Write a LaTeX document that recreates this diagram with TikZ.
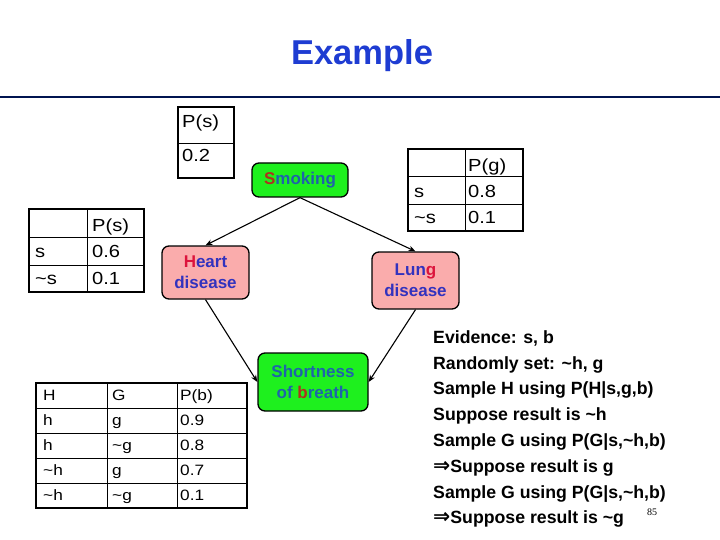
\documentclass[tikz,border=0pt]{standalone}
\usepackage{fontspec}
\setmainfont{Liberation Sans}
\newfontfamily\seriffont{Liberation Serif}
\newfontfamily\symfont{DejaVu Sans}
\newfontfamily\tabfont[FakeStretch=1.15]{Liberation Sans}
\usetikzlibrary{arrows.meta}
\definecolor{titleblue}{RGB}{30,60,210}
\definecolor{navyline}{RGB}{0,20,80}
\definecolor{nodegreen}{RGB}{30,240,30}
\definecolor{nodepink}{RGB}{250,172,172}
\definecolor{nodeblue}{RGB}{50,50,190}
\definecolor{nodered}{RGB}{220,20,60}
\definecolor{greenred}{RGB}{175,50,30}
\definecolor{greenteal}{RGB}{30,100,170}
\newcommand{\implarrow}{{\symfont\bfseries\fontsize{20.5}{20}\selectfont ⇒}}
\begin{document}
\begin{tikzpicture}[x=1pt,y=-1pt]
\tikzset{
 bn/.style={draw=black, line width=1.3pt, rounded corners=7pt, font=\fontsize{17}{21}\selectfont\bfseries, align=center, inner sep=0pt},
 gbn/.style={bn, fill=nodegreen, text=greenteal},
 pbn/.style={bn, fill=nodepink, text=nodeblue},
 edge/.style={-{Stealth[length=7pt,width=5.5pt]}, line width=1.1pt},
 cell/.style={anchor=base west, inner sep=0pt, font=\tabfont\fontsize{17.5}{20}\selectfont},
 scell/.style={anchor=base west, inner sep=0pt, font=\tabfont\fontsize{15}{18}\selectfont},
 tab/.style={line width=1.3pt},
 tabin/.style={line width=0.8pt},
 ev/.style={anchor=base west, inner sep=0pt, font=\fontsize{17.7}{20}\selectfont\bfseries},
}
\useasboundingbox (0,0) rectangle (720,540);

% title and rule
\node[font=\fontsize{34.5}{38}\selectfont\bfseries, text=titleblue, anchor=base, inner sep=0pt] (title) at (362,65) {Example};
\coordinate (rl) at (0,97);
\coordinate (rr) at (720,97);
\draw[navyline, line width=2.3pt] (rl) -- (rr);

% network nodes
\node[gbn, minimum width=96pt, minimum height=34pt] (smk) at (300,180) {\textcolor{greenred}{S}moking};
\node[pbn, minimum width=87pt, minimum height=53pt] (hrt) at (205.5,272.5) {\textcolor{nodered}{H}eart\\disease};
\node[pbn, minimum width=87pt, minimum height=57pt] (lng) at (415.5,280.5) {Lun\textcolor{nodered}{g}\\disease};
\node[gbn, minimum width=110pt, minimum height=58pt] (sob) at (313,382) {Shortness\\of \textcolor{greenred}{b}reath};

\draw[edge] (smk.south) -- (hrt.north);
\draw[edge] (smk.south) -- (lng.north);
\draw[edge] (hrt.south) -- (sob.west);
\draw[edge] (lng.south) -- (sob.east);

% table P(s) top
\draw[tab] (178,107) rectangle (234,178);
\draw[tabin] (178,143) -- (234,143);
\node[cell] (a1) at (182,128) {P(s)};
\node[cell] (a2) at (182,161.5) {0.2};

% table P(h|s) left
\draw[tab] (29,209) rectangle (144,292);
\draw[tabin] (87,209) -- (87,292);
\draw[tabin] (29,237) -- (144,237);
\draw[tabin] (29,265) -- (144,265);
\node[cell] (b1) at (92,231) {P(s)};
\node[cell] (b2) at (35,257) {s};
\node[cell] (b3) at (92,257) {0.6};
\node[cell] (b4) at (35,284) {\textasciitilde s};
\node[cell] (b5) at (92,284) {0.1};

% table P(g|s)
\draw[tab] (408,149) rectangle (523,231);
\draw[tabin] (465,149) -- (465,231);
\draw[tabin] (408,176) -- (523,176);
\draw[tabin] (408,204) -- (523,204);
\node[cell] (c1) at (468,172) {P(g)};
\node[cell] (c2) at (414,197) {s};
\node[cell] (c3) at (468,197) {0.8};
\node[cell] (c4) at (414,224) {\textasciitilde s};
\node[cell] (c5) at (468,224) {0.1};

% table P(b|H,G)
\draw[tab] (36,383) rectangle (247,508);
\draw[tabin] (107,383) -- (107,508);
\draw[tabin] (177,383) -- (177,508);
\draw[tabin] (36,408) -- (247,408);
\draw[tabin] (36,433) -- (247,433);
\draw[tabin] (36,458) -- (247,458);
\draw[tabin] (36,483) -- (247,483);
\node[scell] (d11) at (43,400.5) {H};
\node[scell] (d12) at (112,400.5) {G};
\node[scell] (d13) at (180,400.5) {P(b)};
\node[scell] (d21) at (43,425.5) {h};
\node[scell] (d22) at (112,425.5) {g};
\node[scell] (d23) at (180,425.5) {0.9};
\node[scell] (d31) at (43,450.5) {h};
\node[scell] (d32) at (112,450.5) {\textasciitilde g};
\node[scell] (d33) at (180,450.5) {0.8};
\node[scell] (d41) at (43,475.5) {\textasciitilde h};
\node[scell] (d42) at (112,475.5) {g};
\node[scell] (d43) at (180,475.5) {0.7};
\node[scell] (d51) at (43,500.5) {\textasciitilde h};
\node[scell] (d52) at (112,500.5) {\textasciitilde g};
\node[scell] (d53) at (180,500.5) {0.1};

% evidence text
\node[ev] (e1) at (433,343.3) {Evidence: s, b};
\node[ev] (e2) at (433,369.1) {Randomly set: \textasciitilde h, g};
\node[ev] (e3) at (433,394.9) {Sample H using P(H|s,g,b)};
\node[ev] (e4) at (433,420.7) {Suppose result is \textasciitilde h};
\node[ev] (e5) at (433,446.5) {Sample G using P(G|s,\textasciitilde h,b)};
\node[ev] (e6) at (433,472.3) {\implarrow Suppose result is g};
\node[ev] (e7) at (433,498.1) {Sample G using P(G|s,\textasciitilde h,b)};
\node[ev] (e8) at (433,523.9) {\implarrow Suppose result is \textasciitilde g};

\node[font=\seriffont\fontsize{10}{12}\selectfont, anchor=base, inner sep=0pt] (pg) at (652,515) {85};
\end{tikzpicture}
\end{document}
